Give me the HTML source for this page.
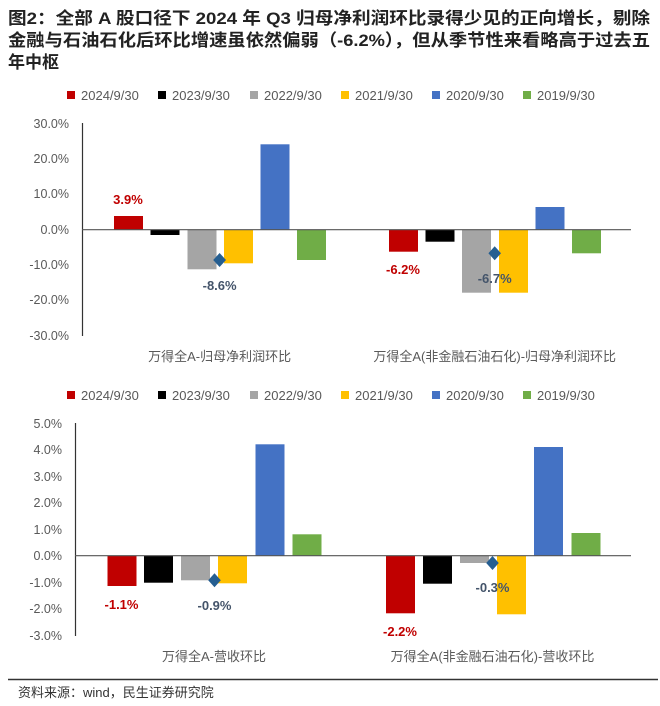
<!DOCTYPE html>
<html><head><meta charset="utf-8"><style>
html,body{margin:0;padding:0;background:#fff;}
svg{display:block;font-family:"Liberation Sans","Noto Sans CJK SC",sans-serif;}
</style></head><body>
<svg width="660" height="706" viewBox="0 0 660 706" xmlns="http://www.w3.org/2000/svg">
<g font-weight="bold" font-size="17" fill="#222">
<text x="8" y="24" textLength="642" lengthAdjust="spacingAndGlyphs">图2：全部 A 股口径下 2024 年 Q3 归母净利润环比录得少见的正向增长，剔除</text>
<text x="8" y="46" textLength="642" lengthAdjust="spacingAndGlyphs">金融与石油石化后环比增速虽依然偏弱（-6.2%），但从季节性来看略高于过去五</text>
<text x="8" y="68">年中枢</text>
</g>
<!-- legend 1 -->
<g font-size="13" fill="#595959">
<rect x="67" y="91" width="8" height="8" fill="#C00000"/><text x="81" y="100">2024/9/30</text>
<rect x="158" y="91" width="8" height="8" fill="#000"/><text x="172" y="100">2023/9/30</text>
<rect x="250" y="91" width="8" height="8" fill="#A5A5A5"/><text x="264" y="100">2022/9/30</text>
<rect x="341" y="91" width="8" height="8" fill="#FFC000"/><text x="355" y="100">2021/9/30</text>
<rect x="432" y="91" width="8" height="8" fill="#4472C4"/><text x="446" y="100">2020/9/30</text>
<rect x="523" y="91" width="8" height="8" fill="#70AD47"/><text x="537" y="100">2019/9/30</text>
</g>
<!-- chart 1 -->
<g font-size="12.5" fill="#595959" text-anchor="end">
<text x="69" y="128">30.0%</text><text x="69" y="163">20.0%</text><text x="69" y="198">10.0%</text>
<text x="69" y="234">0.0%</text><text x="69" y="269">-10.0%</text><text x="69" y="304">-20.0%</text><text x="69" y="340">-30.0%</text>
</g>
<g>
<rect x="114" y="216" width="29" height="13.8" fill="#C00000"/>
<rect x="150.5" y="229.7" width="29" height="5.3" fill="#000"/>
<rect x="187.5" y="229.7" width="29" height="39.6" fill="#A5A5A5"/>
<rect x="224" y="229.7" width="29" height="33.6" fill="#FFC000"/>
<rect x="260.5" y="144.3" width="29" height="85.4" fill="#4472C4"/>
<rect x="297" y="229.7" width="29" height="30.3" fill="#70AD47"/>
<rect x="389" y="229.7" width="29" height="22" fill="#C00000"/>
<rect x="425.5" y="229.7" width="29" height="12" fill="#000"/>
<rect x="462" y="229.7" width="29" height="63" fill="#A5A5A5"/>
<rect x="499" y="229.7" width="29" height="63" fill="#FFC000"/>
<rect x="535.5" y="207" width="29" height="22.7" fill="#4472C4"/>
<rect x="572" y="229.7" width="29" height="23.6" fill="#70AD47"/>
</g>
<line x1="82.5" y1="123" x2="82.5" y2="336" stroke="#333" stroke-width="1.2"/>
<line x1="82" y1="229.7" x2="631" y2="229.7" stroke="#555" stroke-width="1.2"/>
<path d="M219.6 253 L226 260 L219.6 267 L213.2 260Z" fill="#255E91"/>
<path d="M494.7 246.3 L501 253.3 L494.7 260.3 L488.4 253.3Z" fill="#255E91"/>
<g font-size="13" font-weight="bold" text-anchor="middle">
<text x="128" y="204" fill="#C00000">3.9%</text>
<text x="219.6" y="290" fill="#44546A">-8.6%</text>
<text x="403" y="274" fill="#C00000">-6.2%</text>
<text x="494.7" y="283" fill="#44546A">-6.7%</text>
</g>
<g font-size="13" fill="#595959" text-anchor="middle">
<text x="219.6" y="361">万得全A-归母净利润环比</text>
<text x="494.7" y="361">万得全A(非金融石油石化)-归母净利润环比</text>
</g>
<!-- legend 2 -->
<g font-size="13" fill="#595959">
<rect x="67" y="391" width="8" height="8" fill="#C00000"/><text x="81" y="400">2024/9/30</text>
<rect x="158" y="391" width="8" height="8" fill="#000"/><text x="172" y="400">2023/9/30</text>
<rect x="250" y="391" width="8" height="8" fill="#A5A5A5"/><text x="264" y="400">2022/9/30</text>
<rect x="341" y="391" width="8" height="8" fill="#FFC000"/><text x="355" y="400">2021/9/30</text>
<rect x="432" y="391" width="8" height="8" fill="#4472C4"/><text x="446" y="400">2020/9/30</text>
<rect x="523" y="391" width="8" height="8" fill="#70AD47"/><text x="537" y="400">2019/9/30</text>
</g>
<!-- chart 2 -->
<g font-size="12.5" fill="#595959" text-anchor="end">
<text x="62" y="428">5.0%</text><text x="62" y="454">4.0%</text><text x="62" y="481">3.0%</text>
<text x="62" y="507">2.0%</text><text x="62" y="534">1.0%</text><text x="62" y="560">0.0%</text>
<text x="62" y="587">-1.0%</text><text x="62" y="613">-2.0%</text><text x="62" y="640">-3.0%</text>
</g>
<g>
<rect x="107.5" y="555.7" width="29" height="30.3" fill="#C00000"/>
<rect x="144" y="555.7" width="29" height="27" fill="#000"/>
<rect x="181" y="555.7" width="29" height="24.6" fill="#A5A5A5"/>
<rect x="218" y="555.7" width="29" height="27.6" fill="#FFC000"/>
<rect x="255.5" y="444.3" width="29" height="111.4" fill="#4472C4"/>
<rect x="292.5" y="534.3" width="29" height="21.4" fill="#70AD47"/>
<rect x="386" y="555.7" width="29" height="57.6" fill="#C00000"/>
<rect x="423" y="555.7" width="29" height="28" fill="#000"/>
<rect x="460" y="555.7" width="29" height="7.3" fill="#A5A5A5"/>
<rect x="497" y="555.7" width="29" height="58.6" fill="#FFC000"/>
<rect x="534" y="447" width="29" height="108.7" fill="#4472C4"/>
<rect x="571.5" y="533" width="29" height="22.7" fill="#70AD47"/>
</g>
<line x1="75.5" y1="423" x2="75.5" y2="636" stroke="#333" stroke-width="1.2"/>
<line x1="75" y1="555.7" x2="631" y2="555.7" stroke="#555" stroke-width="1.2"/>
<path d="M214.5 573.3 L220.8 580.3 L214.5 587.3 L208.2 580.3Z" fill="#255E91"/>
<path d="M492.5 556 L498.8 563 L492.5 570 L486.2 563Z" fill="#255E91"/>
<g font-size="13" font-weight="bold" text-anchor="middle">
<text x="121.5" y="609" fill="#C00000">-1.1%</text>
<text x="214.5" y="610" fill="#44546A">-0.9%</text>
<text x="400" y="636" fill="#C00000">-2.2%</text>
<text x="492.5" y="592" fill="#44546A">-0.3%</text>
</g>
<g font-size="13" fill="#595959" text-anchor="middle">
<text x="214" y="661">万得全A-营收环比</text>
<text x="492.5" y="661">万得全A(非金融石油石化)-营收环比</text>
</g>
<line x1="8" y1="679.5" x2="658" y2="679.5" stroke="#333" stroke-width="1.5"/>
<text x="18" y="697" font-size="13" fill="#333">资料来源：wind，民生证券研究院</text>
</svg>
</body></html>
